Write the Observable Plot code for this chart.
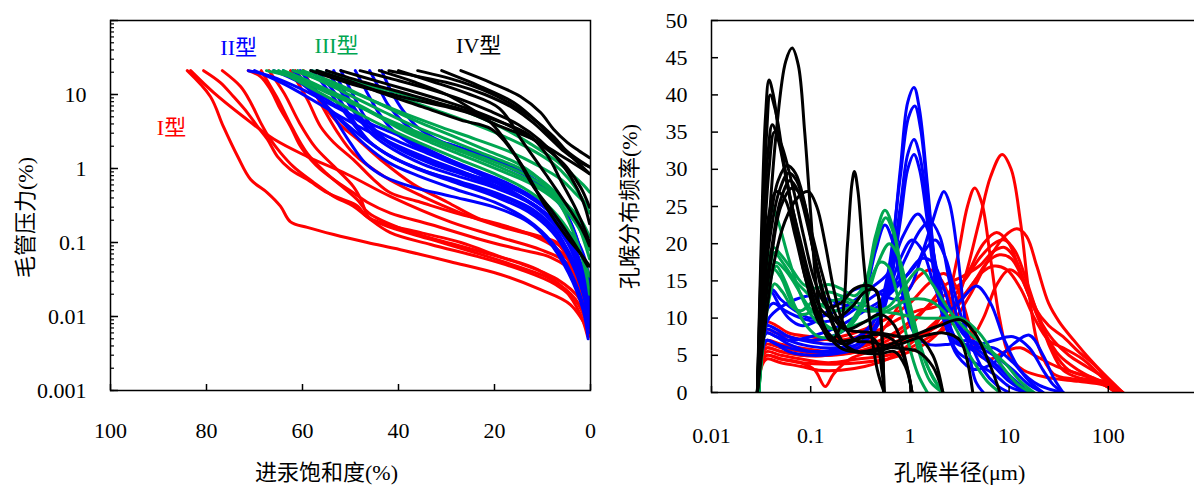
<!DOCTYPE html>
<html>
<head>
<meta charset="utf-8">
<script src="https://cdn.jsdelivr.net/npm/d3@7"></script>
<script src="https://cdn.jsdelivr.net/npm/@observablehq/plot@0.6"></script>
<style>
  html, body { margin: 0; padding: 0; background: #fff; overflow: hidden; }
  #wrap { position: relative; width: 1194px; height: 486px; overflow: hidden; }
  #left { position: absolute; left: 0; top: 0; width: 600px; height: 486px; }
  #right { position: absolute; left: 600px; top: 0; width: 620px; height: 486px; }
  #wrap svg { max-width: none !important; }
</style>
</head>
<body>
<div id="wrap"><div id="left"></div><div id="right"></div></div>
<script>
// ---------- Left panel: capillary pressure curves [saturation %, Pc] ----------
const leftRed = [
  [[84,21],[79.2,9.4],[76.5,3.7],[73.5,1.45],[70.8,0.71],[67.3,0.47],[64.6,0.31],[62.5,0.19],[59,0.16],[53.5,0.128],[46.5,0.1],[39.6,0.08],[29.2,0.055],[18.75,0.037],[10.4,0.023],[4.2,0.0145],[0,0.0057]],
  [[83.3,21],[78.5,10.6],[72.3,5.0],[66,2.5],[59,1.45],[50.6,0.83],[41.7,0.42],[29.2,0.19],[18.75,0.117],[10.4,0.08],[5.2,0.055],[1.7,0.027],[0.2,0.0106]],
  [[80.6,21],[77.1,14.5],[74.4,9.4],[71.5,5.7],[69.4,3.7],[67.3,2.47],[65.2,1.45],[62.5,0.97],[59,0.71],[54.8,0.47],[51.5,0.38],[48.5,0.31],[46.5,0.22],[41.7,0.16],[33.3,0.11],[22.9,0.069],[14.6,0.046],[8.3,0.032],[3.1,0.017],[0.2,0.0067]],
  [[76.7,21],[72.9,12.8],[70.8,7.8],[68.75,4.2],[66.7,2.47],[64.6,1.64],[61.9,1.06],[57.7,0.65],[53.5,0.42],[49.4,0.31],[46.5,0.22],[41.7,0.136],[33.3,0.094],[22.9,0.063],[14.6,0.043],[7.3,0.027],[2.5,0.0145],[0.2,0.0057]],
  [[71.3,21],[68.75,17.5],[66.7,11.7],[64.6,6.3],[62.5,3.7],[60.4,1.98],[58.3,1.32],[56.25,0.97],[52.7,0.65],[49.4,0.47],[46.5,0.35],[41.7,0.25],[33.3,0.175],[22.9,0.11],[14.6,0.08],[8.3,0.063],[3.1,0.037],[0.2,0.0124]],
  [[62.5,21],[59,8.6],[56.25,3.7],[53.5,2.25],[49.4,1.32],[45.2,0.71],[41.7,0.47],[35.4,0.35],[27.1,0.24],[18.75,0.175],[12.5,0.128],[7.3,0.085],[3.1,0.043],[0.2,0.017]],
  [[61.5,21],[57.7,10.6],[52.7,4.2],[48.5,2.47],[43.75,1.32],[36.9,0.61],[29.8,0.35],[22.9,0.205],[16,0.15],[10.4,0.12],[6.25,0.088],[3.5,0.039],[1.5,0.017],[0.2,0.0073]],
  [[68.6,21],[65.4,9.3],[62.2,3.6],[59,1.6],[55,0.86],[48.6,0.38],[46.2,0.25],[39,0.15],[27,0.089],[15,0.053],[7,0.032],[2.2,0.017],[0.2,0.006]],
  [[59.8,21],[56.6,8.4],[52.6,3.0],[49.4,1.6],[43,0.78],[35,0.42],[27,0.25],[19,0.166],[11,0.12],[7,0.1],[3.8,0.048],[1.4,0.017],[0.2,0.0054]],
  [[67,21],[63.8,10.3],[60.6,4.1],[57.4,1.96],[53.4,1.06],[49.4,0.57],[47.8,0.38],[46.2,0.22],[43,0.18],[35,0.134],[27,0.1],[19,0.065],[11,0.043],[5.4,0.023],[2.2,0.011],[0.6,0.0054]]
];
const leftBlue = [
  [[71.3,21],[67,18],[60.4,12],[53.5,7],[46.5,4.2],[40,2.8],[33,1.7],[25.6,1.0],[18.75,0.6],[12,0.33],[6,0.17],[3,0.11],[1.5,0.07],[0.3,0.035]],
  [[70,21],[64,14],[58,8.5],[52,5],[46,3.1],[40,2.0],[33,1.3],[25,0.82],[18,0.52],[11,0.3],[6,0.15],[2.5,0.05],[0.3,0.014]],
  [[62,21],[58.5,13],[55,7],[51,3.8],[47,2.1],[42,1.2],[36,0.8],[28,0.52],[20,0.35],[13,0.2],[8,0.1],[4,0.038],[1.5,0.014],[0.4,0.006]],
  [[60.5,21],[57,11],[53.5,5],[50,2.2],[47,1.2],[43,0.78],[37,0.56],[29,0.42],[20,0.3],[13,0.19],[9,0.11],[4.6,0.039],[1.5,0.012],[0.5,0.005]],
  [[58,21],[54.5,11],[51,5.5],[47,2.6],[42,1.5],[36,1.0],[29,0.7],[21,0.48],[14,0.31],[9,0.18],[5,0.085],[2,0.03],[0.4,0.009]],
  [[55,21],[52,11],[49,5.5],[45.5,2.9],[41,1.8],[35,1.15],[28,0.8],[20,0.55],[13,0.35],[8,0.19],[4,0.08],[1.5,0.028],[0.3,0.012]],
  [[52,21],[49.5,10],[47,5],[44,2.9],[40,1.9],[34,1.3],[27,0.9],[19,0.62],[12,0.4],[7,0.21],[3.5,0.09],[1.2,0.035],[0.2,0.015]],
  [[49,21],[46.5,10.5],[44,5.5],[41,3.2],[37,2.1],[31,1.45],[24,0.95],[17,0.62],[11,0.37],[6.5,0.19],[3,0.07],[1,0.025],[0.2,0.01]],
  [[66,21],[61,15],[56,9.5],[51,5.8],[46,3.6],[40.5,2.4],[34,1.6],[27,1.05],[20,0.7],[13,0.42],[8,0.24],[4,0.1],[1.5,0.04],[0.3,0.02]],
  [[46,21],[44,12],[42,7],[39,4.2],[35,2.7],[29,2.1],[22,1.45],[15,0.95],[10,0.6],[6,0.32],[3,0.12],[1,0.045],[0.2,0.025]],
  [[64,21],[59.5,13],[55.5,7.5],[51.5,4.3],[47,2.5],[42,1.5],[36,0.98],[28,0.64],[20,0.42],[13,0.26],[8,0.14],[4,0.055],[1.5,0.02],[0.3,0.008]],
  [[43.5,21],[41.5,11],[39,6],[36,3.6],[31,2.3],[25,1.7],[18,1.1],[12,0.7],[7.5,0.4],[4,0.18],[1.5,0.06],[0.2,0.03]],
  [[57,21],[53,10],[49.5,4.5],[46,2.3],[41,1.4],[35,0.95],[27,0.66],[19,0.45],[12,0.28],[7,0.14],[3.5,0.05],[1,0.016],[0.2,0.007]],
  [[53.5,21],[50.5,9],[47.5,4.6],[44,2.7],[39,1.7],[33,1.15],[26,0.8],[18,0.52],[11,0.3],[6,0.14],[3,0.055],[1,0.02],[0.2,0.01]]
];
const leftGreen = [
  [[67.5,21],[60.4,16],[53.5,10.6],[46.5,6.3],[39.6,3.4],[33,2.2],[26,1.45],[19,0.95],[12,0.6],[7,0.36],[3,0.18],[0.2,0.08]],
  [[66,21],[60,15],[54,10],[48,6.8],[42,4.5],[35,2.9],[28,1.9],[21,1.3],[14,0.85],[9,0.55],[5,0.33],[2,0.2],[0.2,0.12]],
  [[64,21],[58,14.5],[52,9.2],[46,5.8],[40,3.7],[33,2.4],[26,1.6],[19,1.05],[13,0.7],[8,0.45],[4,0.26],[1.5,0.15],[0.2,0.09]],
  [[62,21],[56,15.5],[50,11],[44,7.6],[38,5.3],[31,3.6],[24,2.5],[17,1.7],[11,1.1],[6,0.7],[3,0.45],[0.2,0.3]],
  [[60,21],[54,15],[48,10],[42,6.5],[36,4.3],[29,2.8],[22,1.8],[15,1.15],[9.5,0.62],[6,0.3],[3,0.11],[1,0.04],[0.2,0.02]],
  [[58,21],[52,17],[46,13.5],[40,10.5],[34,8.3],[27,6.2],[20,4.0],[15,2.7],[10,1.7],[7,1.25],[4,0.85],[1.5,0.6],[0.2,0.48]],
  [[57,21],[51,16],[45,12],[39,8.8],[33,6.4],[26,4.4],[19,2.9],[13,1.9],[8,1.2],[4.5,0.72],[2,0.42],[0.2,0.25]],
  [[65,21],[59,13],[53,8],[47,5],[41,3.2],[34,2.0],[27,1.3],[20,0.85],[14,0.55],[9,0.32],[5,0.16],[2,0.07],[0.2,0.035]],
  [[61,21],[55,14],[49,9],[43,5.8],[37,3.8],[30,2.5],[23,1.65],[16,1.1],[11,0.75],[6.5,0.42],[3,0.2],[0.2,0.06]]
];
const leftBlack = [
  [[27,21],[20.8,14.5],[14.6,9.4],[10.4,5.7],[7.7,3.4],[4.8,2.24],[2.5,1.75],[0.2,1.4]],
  [[31,21],[22.9,12.8],[16,7.8],[11,4.2],[7.7,2.5],[3.5,1.45],[0.2,1.05]],
  [[36,21],[26.5,14.5],[19.4,9.4],[12.5,5],[7.7,2.7],[4.8,1.65],[0.2,0.85]],
  [[58.3,21],[50,14],[39.6,9.4],[25.6,5.7],[18.75,3.7],[11.9,2.47],[4.8,1.32],[0.2,0.85]],
  [[57,21],[50,15],[43,10.2],[35,6.8],[27,4.5],[20.6,3.4],[15,1.3],[9.4,0.31],[5,0.12],[2,0.07],[0.2,0.048]],
  [[44,21],[37,15],[30,10],[24.5,6.2],[20.8,4.2],[16,1.64],[11.9,0.57],[7.7,0.25],[3.5,0.1],[0.6,0.048]],
  [[40,21],[33,15],[26,10.5],[19,6.5],[14,2.24],[9,0.78],[4.8,0.31],[1.5,0.14],[0.2,0.09]],
  [[52,21],[45,15.5],[38,11.5],[30,8],[23,5.6],[17,3.8],[12,2.5],[8,1.6],[5,1.05],[2,0.55],[0.2,0.3]],
  [[48,21],[41,16],[34,12],[27,8.6],[21,6],[15,3.9],[10.5,2.4],[7,1.4],[4,0.75],[1.5,0.35],[0.2,0.18]],
  [[55,21],[47,14.5],[40,11],[32,7.8],[25,5.8],[19,4.3],[13,2.9],[9,1.5],[6,0.65],[3,0.28],[1,0.14],[0.2,0.1]],
  [[42,21],[35,17],[28,13.5],[22,10],[16,6.5],[12,4.2],[8.5,2.6],[5.5,1.7],[3,1.3],[0.2,1.05]]
];
const leftXTicks = [100, 80, 60, 40, 20, 0];
const leftYTicks = [0.001, 0.01, 0.1, 1, 10, 100];
const leftYLabels = [0.001, 0.01, 0.1, 1, 10];
const typeLabels = ["I型", "II型", "III型", "IV型"];
const typeLabelS = [87.3, 73.3, 52.9, 23.3];
const typeLabelPc = [3.58, 43.2, 44.6, 44.6];
const typeColors = ["#ff0000", "#0000ff", "#00a651", "#000000"];

// ---------- Right panel: pore-throat distribution [radius µm, frequency %] ----------
const rightRed = [
  [[0.03,0],[0.032,4],[0.036,5],[0.05,4.5],[0.08,4],[0.15,3.8],[0.3,4],[0.6,4.5],[1.0,5.5],[1.6,7],[2.5,10],[3.5,15],[5,23],[6.5,29],[8.5,32],[10.5,30],[13,23],[16,13],[20,6],[28,2.5],[45,1.8],[70,1.5],[100,0.8],[140,0]],
  [[0.03,0],[0.032,5],[0.036,6],[0.05,5.5],[0.08,5],[0.15,5],[0.3,5.5],[0.6,6.5],[1.0,7.5],[1.5,8],[2.2,11],[3,18],[3.8,25],[4.5,27.5],[5.3,25.5],[6.5,18],[8,10],[10,5],[14,3],[25,2],[50,1.5],[90,1],[130,0]],
  [[0.03,0],[0.032,4.5],[0.036,5.5],[0.05,5],[0.08,4.5],[0.15,4],[0.3,4.5],[0.6,5],[1.0,6],[1.6,7.5],[2.5,9],[4,13],[6,17.5],[9,21],[12,22],[15,21],[19,17],[25,12],[32,9.5],[45,7],[65,4.5],[90,2.5],[140,0]],
  [[0.03,0],[0.032,8],[0.036,9.5],[0.045,9],[0.06,8],[0.1,7.5],[0.18,7],[0.3,7.5],[0.5,8.5],[0.8,10],[1.2,11],[1.8,11.5],[2.8,13],[4,16.5],[5.5,20],[7.5,21.5],[10,20],[13,16],[18,11.5],[25,9],[35,7.5],[50,5.5],[75,3.5],[100,1.5],[130,0]],
  [[0.03,0],[0.032,6],[0.036,7],[0.05,6.5],[0.08,6],[0.15,5.5],[0.3,6],[0.6,7.5],[1.0,9.5],[1.5,11.5],[2.2,13],[3.5,15],[5,18],[7,20],[9,20.5],[11.5,19],[15,15],[20,10],[28,5.5],[40,3],[70,2],[100,1],[130,0]],
  [[0.03,0],[0.032,5.5],[0.036,6.5],[0.05,6],[0.08,5.5],[0.15,5],[0.3,5.5],[0.6,7],[1.0,9],[1.6,12],[2.3,14.5],[3.3,15.5],[5,17],[7,19],[9,19.5],[11.5,18],[15,14],[20,10],[28,7],[40,5],[60,3.5],[90,2],[140,0]],
  [[0.03,0],[0.032,3.5],[0.036,4.5],[0.05,4],[0.08,3.5],[0.12,3],[0.2,3],[0.35,3.5],[0.6,4.5],[1.0,6.5],[1.5,8.5],[2.2,10.5],[3,12],[4.5,15],[6,17.5],[8,18.5],[10.5,18],[14,15],[19,11],[26,6],[35,3],[50,2],[90,1.5],[140,0]],
  [[0.03,0],[0.032,4],[0.036,5],[0.05,4.5],[0.08,4],[0.11,3],[0.14,0.8],[0.17,2.5],[0.25,4.5],[0.4,5.5],[0.7,6.5],[1.1,7.5],[1.7,8.5],[2.6,10.5],[3.8,13.5],[5.2,16],[7,17],[9.5,16.5],[13,14],[18,10],[25,7],[35,6],[55,4.5],[80,2.5],[120,0]],
  [[0.03,0],[0.032,5],[0.036,6],[0.05,5.5],[0.08,5],[0.15,5],[0.3,6],[0.5,8],[0.8,12],[1.2,15.5],[1.6,16.5],[2.1,15],[2.8,11],[3.5,8],[4.2,7.5],[5.5,10],[7.5,14.5],[10,16.5],[13,15.5],[17,12],[23,8],[32,5],[50,3],[80,1.5],[120,0]],
  [[0.03,0],[0.032,7],[0.036,8.5],[0.045,8],[0.06,7.5],[0.1,7],[0.2,7.5],[0.35,8.5],[0.6,10],[1.0,12],[1.5,14.5],[2.2,16],[3,14],[4,9],[5,5],[6.5,4.5],[9,5.5],[13,6],[18,5],[30,3.5],[50,2.5],[80,1.5],[120,0]]
];
const rightBlue = [
  [[0.03,0],[0.032,6],[0.036,8.5],[0.045,8],[0.06,7],[0.1,6.2],[0.18,6],[0.3,6.5],[0.45,9],[0.6,15],[0.8,30],[0.95,39],[1.1,41],[1.25,38],[1.5,28],[1.8,17],[2.3,9],[3,5.5],[4.5,4],[7,2.5],[10,0.8],[15,0]],
  [[0.03,0],[0.032,7],[0.036,9],[0.045,8.5],[0.06,7.5],[0.1,6.8],[0.18,6.5],[0.3,7.5],[0.45,10],[0.6,16],[0.8,29],[0.97,37],[1.12,38.5],[1.28,35.5],[1.5,27],[1.8,17],[2.3,10],[3,7],[4.5,5.5],[7,3.5],[10,1.5],[15,0]],
  [[0.03,0],[0.032,6.5],[0.036,8],[0.045,7.5],[0.06,6.5],[0.1,5.5],[0.18,5.5],[0.3,6.5],[0.45,9],[0.6,14],[0.8,25],[0.95,32],[1.1,34],[1.25,32],[1.5,25],[1.8,16],[2.3,9],[3,5],[4.5,3.1],[7,4],[11,6.5],[16,7.7],[22,5],[28,2],[35,0]],
  [[0.03,0],[0.032,5.5],[0.036,7],[0.045,6.5],[0.06,5.5],[0.1,5],[0.18,5.2],[0.3,6],[0.45,8.5],[0.6,13],[0.8,23],[0.95,30],[1.1,32],[1.25,30],[1.5,23],[1.8,15],[2.3,9],[3,6.5],[4.5,6],[7,6],[11,4],[16,1.5],[22,0]],
  [[0.03,0],[0.032,8],[0.036,11],[0.042,12],[0.055,11],[0.08,10],[0.12,9.5],[0.2,10],[0.3,11.5],[0.5,13.5],[0.8,15],[1.2,17.5],[1.6,22],[2.0,26],[2.2,27],[2.5,25.5],[3,19],[3.5,11],[4,5],[4.6,1.5],[5.5,0]],
  [[0.03,0],[0.032,9],[0.036,13],[0.041,13.8],[0.05,12.5],[0.07,11],[0.1,10],[0.15,10.5],[0.25,12],[0.4,14],[0.6,16],[0.85,21],[1.2,24],[1.5,22],[1.9,16],[2.4,10],[3,7],[4.5,6],[7,4],[10,2],[15,0]],
  [[0.03,0],[0.033,7],[0.038,10],[0.05,11.5],[0.07,12.5],[0.1,13],[0.15,12.5],[0.25,11.5],[0.4,11],[0.6,13],[0.9,18],[1.3,22],[1.6,23],[2.0,21],[2.5,15],[3.2,9],[4.5,6.5],[7,5],[11,3],[16,1],[22,0]],
  [[0.03,0],[0.032,7],[0.036,9],[0.045,8.5],[0.06,7.5],[0.1,7],[0.16,7.5],[0.25,9],[0.35,13],[0.45,19],[0.56,22.5],[0.68,20],[0.85,13],[1.1,8],[1.5,6.5],[2.5,6.5],[4,7],[6,6],[9,3],[13,1],[16,0]],
  [[0.03,0],[0.032,5],[0.036,7],[0.045,6.5],[0.06,6],[0.1,5.5],[0.2,6],[0.35,8],[0.55,12],[0.8,18],[1.05,20.5],[1.35,19],[1.8,14],[2.4,11],[3.3,12.5],[4.7,14.3],[6.5,12],[9,7],[13,3],[20,1],[35,0]],
  [[0.03,0],[0.032,6],[0.036,8],[0.045,7.5],[0.06,7],[0.1,7.5],[0.2,9],[0.35,11],[0.6,13],[0.9,15.5],[1.3,18],[1.7,17.5],[2.2,14],[3,9],[4.5,6.5],[7,7],[11,7.5],[16,6],[22,3],[28,1],[35,0]],
  [[0.03,0],[0.032,8],[0.036,12],[0.04,13.5],[0.047,12],[0.06,10],[0.08,9],[0.11,9.5],[0.15,11],[0.22,13],[0.3,14],[0.4,14],[0.55,13],[0.75,12.5],[1.0,14],[1.4,19],[1.8,20.5],[2.3,18],[3,12],[4,7],[5.5,3],[7.5,1],[10,0]]
];
const rightGreen = [
  [[0.03,0],[0.033,12],[0.037,21],[0.041,25],[0.047,23],[0.06,18],[0.08,13],[0.1,10.5],[0.13,9],[0.2,8.5],[0.35,9.5],[0.6,11],[1.0,12.5],[1.6,12.3],[2.5,10],[4,5],[6,1.5],[8.1,0]],
  [[0.03,0],[0.033,10],[0.037,17],[0.042,19.5],[0.05,18.5],[0.065,16.5],[0.085,14.5],[0.11,14],[0.15,14.5],[0.2,14],[0.28,13],[0.36,15],[0.45,21],[0.56,24.5],[0.68,22],[0.85,15],[1.1,9],[1.5,3.5],[2.15,0]],
  [[0.03,0],[0.033,9],[0.038,16],[0.043,18.8],[0.052,17.5],[0.07,15],[0.09,13.5],[0.12,12],[0.17,11],[0.25,11.5],[0.35,14],[0.45,20],[0.57,23.5],[0.7,21],[0.9,13],[1.2,6],[1.6,1.5],[2.15,0]],
  [[0.03,0],[0.033,8],[0.038,14.5],[0.044,17.5],[0.055,16.5],[0.07,14.5],[0.09,12],[0.12,10],[0.17,8.5],[0.25,9],[0.35,12],[0.48,17.5],[0.62,20],[0.78,18],[1.0,12],[1.3,6],[1.7,2],[2.15,0]],
  [[0.03,0],[0.033,7],[0.037,13],[0.042,16.6],[0.05,15.5],[0.065,12],[0.08,10.5],[0.1,10.8],[0.14,12],[0.2,12.5],[0.35,11],[0.6,11.5],[0.9,14.5],[1.26,16.6],[1.7,14.5],[2.5,11],[4,8],[6,6],[9,4],[13,1.5],[17.8,0]],
  [[0.03,0],[0.034,8],[0.038,12.5],[0.043,14.6],[0.052,13.5],[0.065,11.5],[0.08,11],[0.11,12.5],[0.15,13.5],[0.2,13],[0.3,12],[0.5,11],[0.8,10.5],[1.3,10],[2.2,10],[3.3,10],[5,8],[8,4],[12,1.2],[16.5,0]],
  [[0.03,0],[0.034,9],[0.039,15],[0.045,17],[0.055,15],[0.07,11.5],[0.09,9],[0.12,7.5],[0.16,7.5],[0.22,8.5],[0.3,11],[0.4,15],[0.5,17.5],[0.6,17],[0.75,13],[0.95,7],[1.2,2.5],[1.5,0]]
];
const rightBlack = [
  [[0.029,0],[0.035,16],[0.045,35],[0.056,44.5],[0.065,46.3],[0.075,44],[0.087,35],[0.1,24],[0.115,14],[0.14,8.5],[0.2,6],[0.3,5.4],[0.5,5.2],[0.7,5.5],[0.9,3.5],[1.05,0]],
  [[0.029,0],[0.032,22],[0.035,37],[0.038,42],[0.042,40],[0.05,33],[0.065,25],[0.085,18],[0.11,12],[0.15,8],[0.22,6.5],[0.33,7.5],[0.45,7],[0.52,3],[0.55,0]],
  [[0.029,0],[0.032,19],[0.036,35],[0.039,40],[0.044,38],[0.055,30],[0.07,22],[0.09,15],[0.12,9.5],[0.17,7],[0.3,7.2],[0.5,7.8],[0.75,6.5],[0.95,3],[1.05,0]],
  [[0.029,0],[0.033,21],[0.037,32],[0.041,36],[0.047,34],[0.06,27],[0.08,20],[0.1,15],[0.13,11],[0.18,10],[0.26,11.5],[0.35,13.5],[0.45,13.8],[0.5,11],[0.55,0]],
  [[0.029,0],[0.033,17],[0.038,30],[0.043,35],[0.05,33.5],[0.065,28],[0.085,21],[0.11,15],[0.15,11.5],[0.2,12],[0.28,14],[0.4,14.3],[0.48,13],[0.52,8],[0.55,0]],
  [[0.029,0],[0.032,12],[0.038,22],[0.047,28.5],[0.058,30.5],[0.07,29.5],[0.085,26],[0.1,21],[0.13,14],[0.17,10],[0.22,8.5],[0.3,8.2],[0.5,8],[0.8,7.5],[1.2,7.5],[1.7,5],[2.15,0]],
  [[0.029,0],[0.032,10],[0.038,20],[0.048,27],[0.06,29.5],[0.072,28.5],[0.09,24],[0.11,18],[0.14,12],[0.2,7],[0.28,5.5],[0.45,5.5],[0.8,6.5],[1.3,7.5],[2.2,8],[3.2,7],[4.3,0]],
  [[0.029,0],[0.033,10],[0.04,19],[0.05,26],[0.062,28.5],[0.075,27],[0.095,22],[0.12,16],[0.16,10],[0.22,6.5],[0.3,5.5],[0.5,6],[1.0,7.5],[2.0,9],[3.2,9.8],[4.5,8],[6.5,3.5],[8.1,0]],
  [[0.029,0],[0.033,9],[0.04,18],[0.05,25],[0.065,27.5],[0.08,26.5],[0.1,22],[0.13,16],[0.17,11],[0.23,8.5],[0.35,9.5],[0.5,10.5],[0.7,9],[0.9,4.5],[1.05,0]],
  [[0.029,0],[0.034,8],[0.042,17],[0.055,23],[0.075,26.3],[0.095,27],[0.115,25],[0.14,20],[0.17,14],[0.21,9.5],[0.28,7],[0.4,6.8],[0.7,6],[1.2,5.5],[1.7,3.5],[2.15,0]],
  [[0.029,0],[0.033,14],[0.038,24],[0.045,27],[0.055,26],[0.07,21],[0.09,15],[0.12,10],[0.16,7],[0.2,9],[0.235,20],[0.26,28],[0.276,29.7],[0.3,27],[0.34,18],[0.4,9],[0.47,3],[0.55,0]]
];
const rightXTicks = [0.01, 0.1, 1, 10, 100, 1000];
const rightXLabels = [0.01, 0.1, 1, 10, 100];
const rightYTicks = [0, 5, 10, 15, 20, 25, 30, 35, 40, 45, 50];

const leftXTitle = "进汞饱和度(%)";
const leftYTitle = "毛管压力(%)";
const rightXTitle = "孔喉半径(μm)";
const rightYTitle = "孔喉分布频率(%)";

// ---------- helpers ----------
const FONT = '"Liberation Serif", "Times New Roman", Tinos, Times, "DejaVu Serif", "Noto Sans CJK SC", serif';
const rows = (curves, name) => curves.flatMap((c, i) => c.map(([x, y]) => ({x, y, id: name + i})));
const lineOpts = (color) => ({x: "x", y: "y", z: "id", stroke: color, strokeWidth: 3, curve: "catmull-rom", clip: true});
const fmt = (d) => String(d);
const T = {fontFamily: FONT, fontSize: 22};

const groupsLeft = [leftRed, leftBlue, leftGreen, leftBlack];
const groupsRight = [rightRed, rightBlue, rightGreen, rightBlack];

function finish(svg) {
  svg.setAttribute("font-family", FONT);
  svg.style.fontFamily = FONT;
  svg.style.maxWidth = "none";
  svg.querySelectorAll("text").forEach(t => t.setAttribute("font-family", FONT));
  return svg;
}

const leftPlot = Plot.plot({
  width: 600, height: 486,
  marginLeft: 110, marginRight: 10, marginTop: 20, marginBottom: 96,
  style: {fontFamily: FONT, fontSize: "22px", color: "#000", background: "transparent", overflow: "visible"},
  x: {domain: [100, 0], label: null},
  y: {type: "log", domain: [0.001, 100], label: null},
  marks: [
    ...groupsLeft.map((g, k) => Plot.line(rows(g, "L" + k), lineOpts(typeColors[k]))),
    Plot.frame({stroke: "#000", strokeWidth: 1.5}),
    Plot.axisX(leftXTicks, {...T, tickSize: -6, tickPadding: 37.6, tickFormat: fmt, label: null, strokeWidth: 1.5}),
    Plot.axisY(d3.scaleLog().domain([0.001, 100]).ticks(), {tickSize: -4, tickFormat: () => "", label: null, strokeWidth: 1.2}),
    Plot.axisY(leftYTicks, {...T, tickSize: -8, tickPadding: 32, tickFormat: (d) => leftYLabels.includes(d) ? fmt(d) : "", label: null, strokeWidth: 1.5}),
    Plot.text(typeLabels, {...T, x: (d, i) => typeLabelS[i], y: (d, i) => typeLabelPc[i], text: (d) => d,
      fill: (d, i) => typeColors[i], textAnchor: "middle", lineAnchor: "middle"}),
    Plot.text([leftXTitle], {...T, frameAnchor: "bottom", dy: 82, dx: -24, text: (d) => d, textAnchor: "middle", lineAnchor: "middle"}),
    Plot.text([leftYTitle], {...T, frameAnchor: "left", dx: -85, dy: 12, rotate: -90, text: (d) => d, textAnchor: "middle", lineAnchor: "middle"})
  ]
});
document.getElementById("left").appendChild(finish(leftPlot));

const rightPlot = Plot.plot({
  width: 620, height: 486,
  marginLeft: 111, marginRight: 13, marginTop: 20, marginBottom: 94,
  style: {fontFamily: FONT, fontSize: "22px", color: "#000", background: "transparent", overflow: "visible"},
  x: {type: "log", domain: [0.01, 1000], label: null},
  y: {domain: [0, 50], label: null},
  marks: [
    ...groupsRight.map((g, k) => Plot.line(rows(g, "R" + k), lineOpts(typeColors[k]))),
    Plot.frame({stroke: "#000", strokeWidth: 1.5}),
    Plot.axisX(rightXTicks, {...T, tickSize: -6, tickPadding: 40.6, tickFormat: (d) => rightXLabels.includes(d) ? fmt(d) : "", label: null, strokeWidth: 1.5}),
    Plot.axisY(rightYTicks, {...T, tickSize: -7, tickPadding: 31, tickFormat: fmt, label: null, strokeWidth: 1.5}),
    Plot.text([rightXTitle], {...T, frameAnchor: "bottom", dy: 80, text: (d) => d, textAnchor: "middle", lineAnchor: "middle"}),
    Plot.text([rightYTitle], {...T, frameAnchor: "left", dx: -82, dy: 0, rotate: -90, text: (d) => d, textAnchor: "middle", lineAnchor: "middle"})
  ]
});
document.getElementById("right").appendChild(finish(rightPlot));
</script>
</body>
</html>
